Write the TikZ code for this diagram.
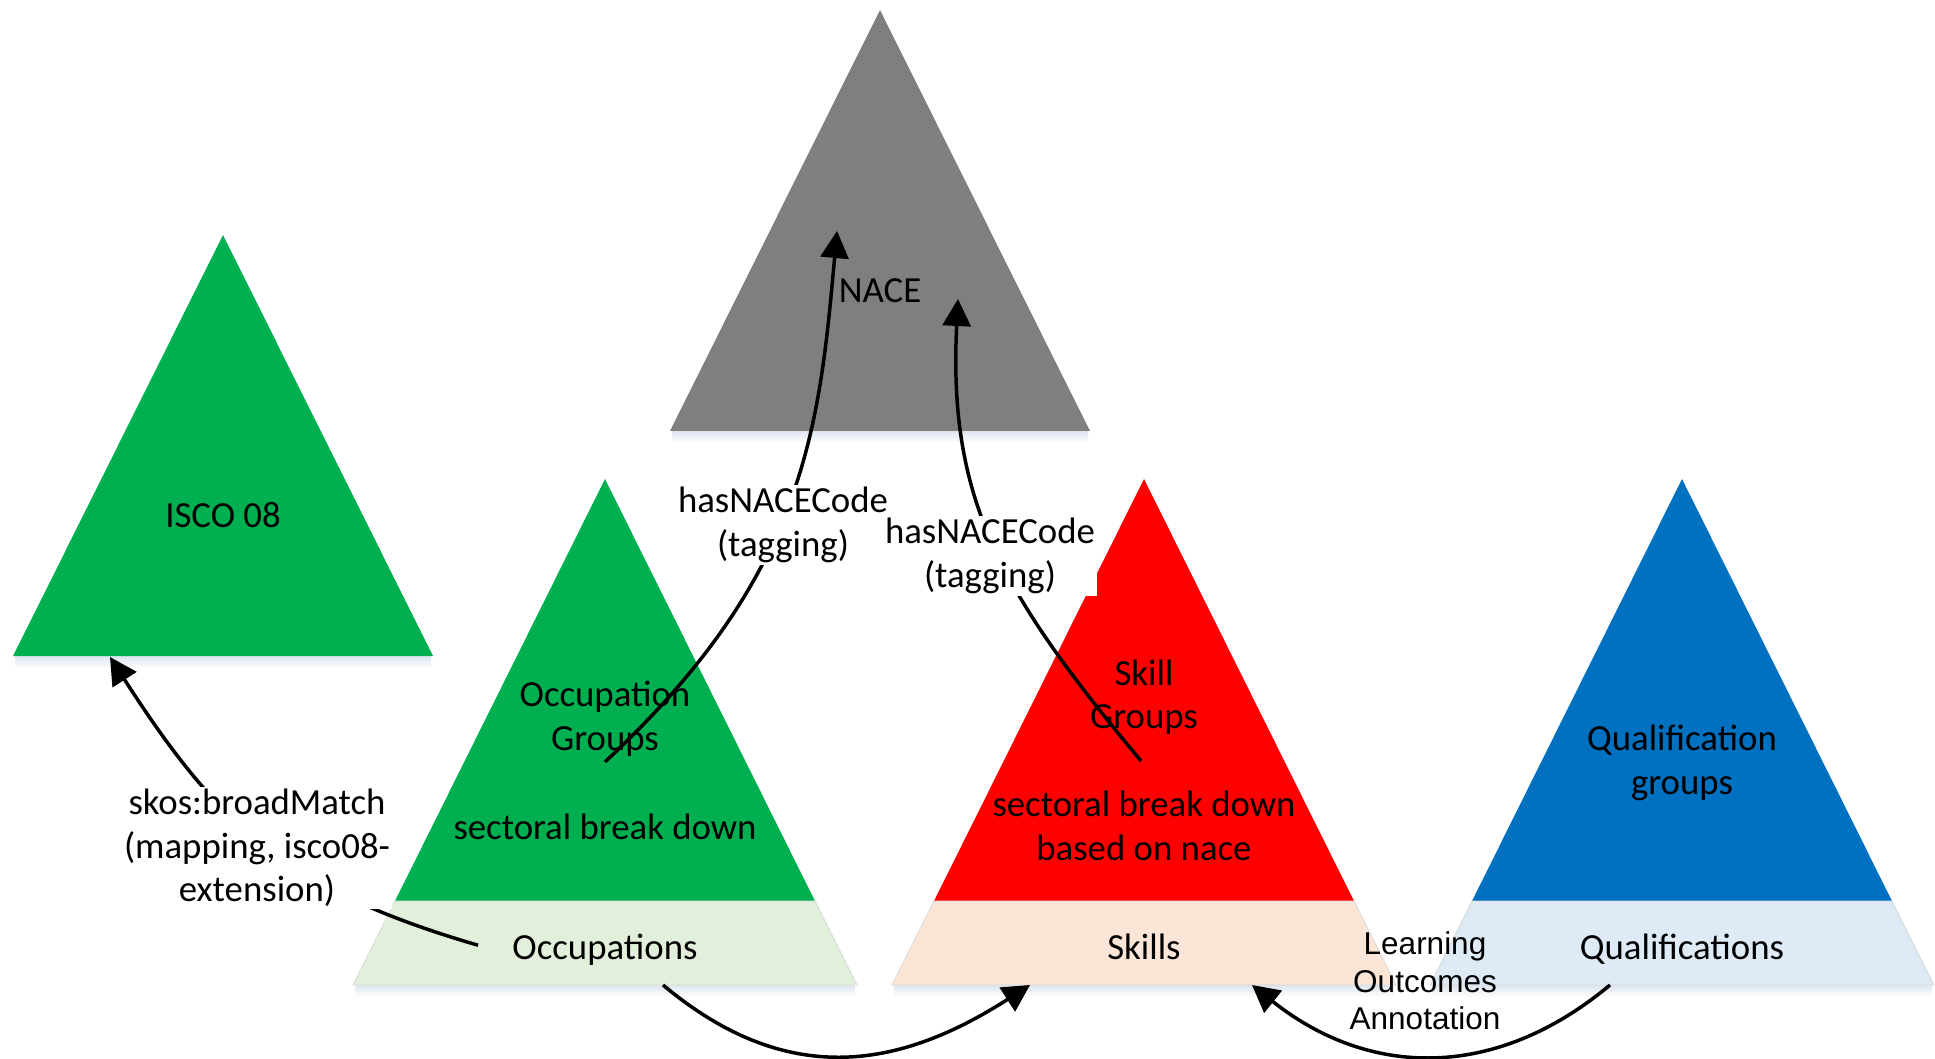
\documentclass[tikz,border=0pt]{standalone}
\usepackage{fontspec}
\setmainfont{Carlito}
\newfontfamily\arialfont{Liberation Sans}
\usetikzlibrary{arrows.meta}

\definecolor{iscogreen}{HTML}{00B050}
\definecolor{nacegray}{HTML}{7F7F7F}
\definecolor{skillred}{HTML}{FF0000}
\definecolor{qualblue}{HTML}{0070C0}
\definecolor{occband}{HTML}{E2EFDA}
\definecolor{skillband}{HTML}{FBE5D6}
\definecolor{qualband}{HTML}{DEEBF7}
\definecolor{glowblue}{HTML}{DCE6F0}

\tikzset{
  lbltext/.style={font=\fontsize{18.4}{21.8}\selectfont, align=center, inner sep=1pt},
  tagbox/.style={lbltext, fill=white},
  lotext/.style={font=\arialfont\fontsize{15.75}{18.75}\selectfont, align=center, inner sep=1pt},
  linkarrow/.style={line width=1.75pt, -{Triangle[length=13.5pt,width=14pt]}},
  bandline/.style={draw=black!15, line width=0.4pt},
  glow/.style={top color=glowblue, bottom color=white},
}

\begin{document}
\begin{tikzpicture}[x=0.5pt,y=-0.5pt]
\useasboundingbox (0,0) rectangle (1935,1059);

\begin{scope}[shift={(223,235)}]
  \shade[glow] (-208,421) rectangle (208,433);
  \fill[iscogreen] (0,0) -- (210,421) -- (-210,421) -- cycle;
  \coordinate (iscoin) at (-113,422);
\end{scope}
\begin{scope}[shift={(880,10)}]
  \shade[glow] (-208,421) rectangle (208,433);
  \fill[nacegray] (0,0) -- (210,421) -- (-210,421) -- cycle;
  \coordinate (naceinA) at (-43,221);
  \coordinate (naceinB) at (78,289);
\end{scope}
\begin{scope}[shift={(605,479)}]
  \shade[glow] (-250,506) rectangle (250,518);
  \fill[iscogreen] (0,0) -- (210,422) -- (-210,422) -- cycle;
  \draw[bandline,fill=occband] (-210,422) -- (210,422) -- (252,506) -- (-252,506) -- cycle;
  \coordinate (occfoot) at (58,506);
\end{scope}
\begin{scope}[shift={(1144,479)}]
  \shade[glow] (-250,506) rectangle (250,518);
  \fill[skillred] (0,0) -- (210,422) -- (-210,422) -- cycle;
  \draw[bandline,fill=skillband] (-210,422) -- (210,422) -- (252,506) -- (-252,506) -- cycle;
  \coordinate (skillfootL) at (-114,506);
  \coordinate (skillfootR) at (108,506);
\end{scope}
\begin{scope}[shift={(1682,479)}]
  \shade[glow] (-250,506) rectangle (250,518);
  \fill[qualblue] (0,0) -- (210,422) -- (-210,422) -- cycle;
  \draw[bandline,fill=qualband] (-210,422) -- (210,422) -- (252,506) -- (-252,506) -- cycle;
  \coordinate (qualfoot) at (-72,506);
\end{scope}

\node[lbltext, anchor=base] (isco) at (223,527) {ISCO 08};
\node[lbltext, anchor=base] (nace) at (880,303) {NACE};
\node[lbltext] (occgrp) at (605,719) {Occupation\\Groups};
\node[lbltext, anchor=base] (occsec) at (605,839) {sectoral break down};
\node[lbltext, anchor=base] (occ) at (605,959) {Occupations};
\node[lbltext] (skillgrp) at (1144,697) {Skill\\Groups};
\node[lbltext] (skillsec) at (1144,826) {sectoral break down\\based on nace};
\node[lbltext, anchor=base] (skills) at (1144,959) {Skills};
\node[lbltext] (qualgrp) at (1682,763) {Qualification\\groups};
\node[lbltext, anchor=base] (qual) at (1682,959) {Qualifications};

\coordinate (occgrpfoot) at ([yshift=-1.5pt]occgrp.south);
\coordinate (skillgrpfoot) at ([xshift=-1.5pt,yshift=-12pt]skillgrp.south);
\coordinate (occleft) at ([xshift=-16pt,yshift=2pt]occ.west);

\draw[linkarrow] (occgrpfoot) .. controls +(200,-186) and +(-18,200) .. (naceinA)
  node[tagbox] at (783,525) {hasNACECode\\(tagging)};
\draw[linkarrow] (skillgrpfoot) .. controls +(-141,-169) and +(-10,200) .. (naceinB)
  node[tagbox] at (990,556) {hasNACECode\\(tagging)};
\draw[linkarrow] (occleft) .. controls +(-192,-56) and +(108,168) .. (iscoin)
  node[tagbox] at (257,848) {skos:broadMatch\\(mapping, isco08-\\extension)};
\draw[linkarrow] (occfoot) .. controls +(122,102) and +(-134,86) .. (skillfootL);
\draw[linkarrow] (qualfoot) .. controls +(-115,96) and +(117,93) .. (skillfootR)
  node[lotext] at (1425,981) {Learning\\Outcomes\\Annotation};
\end{tikzpicture}
\end{document}
